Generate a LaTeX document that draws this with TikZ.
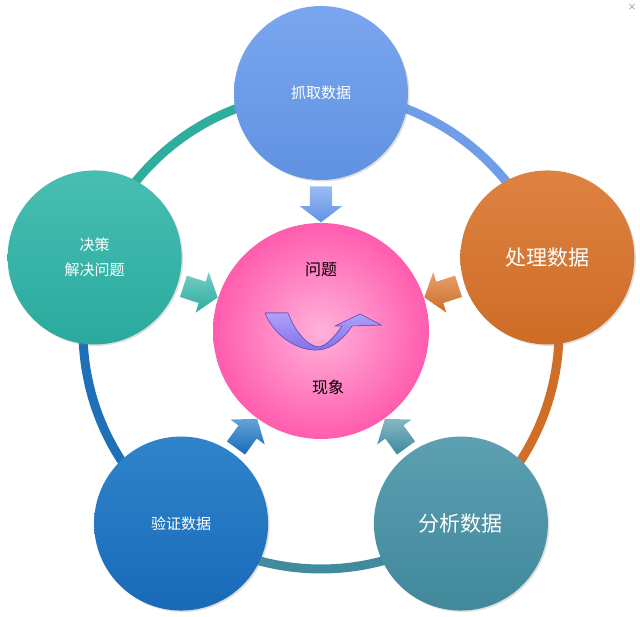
\documentclass[tikz,border=0pt]{standalone}
\usepackage{fontspec}
\setmainfont{Noto Sans CJK SC}
\usepackage{tikz}
\usetikzlibrary{shapes.arrows, positioning, calc, backgrounds, shadows}
\definecolor{GrabTop}{RGB}{122,166,238}
\definecolor{GrabBot}{RGB}{96,146,226}
\definecolor{GrabRing}{RGB}{111,157,232}
\definecolor{ProcTop}{RGB}{222,130,66}
\definecolor{ProcBot}{RGB}{206,108,38}
\definecolor{ProcRing}{RGB}{208,110,40}
\definecolor{AnaTop}{RGB}{92,160,178}
\definecolor{AnaBot}{RGB}{64,136,154}
\definecolor{AnaRing}{RGB}{64,140,158}
\definecolor{VerTop}{RGB}{48,132,202}
\definecolor{VerBot}{RGB}{24,106,184}
\definecolor{VerRing}{RGB}{30,112,184}
\definecolor{DecTop}{RGB}{72,190,178}
\definecolor{DecBot}{RGB}{42,170,158}
\definecolor{DecRing}{RGB}{47,174,159}
\definecolor{HubLight}{RGB}{255,178,218}
\definecolor{HubPink}{RGB}{255,92,174}
\definecolor{SwooshLight}{RGB}{174,162,248}
\definecolor{SwooshDark}{RGB}{128,112,232}
\definecolor{SwooshEdge}{RGB}{100,84,200}

\begin{document}
\begin{tikzpicture}[
    x=1pt, y=1pt,
    stage/.style={circle, minimum size=174pt, inner sep=0pt, text=white, align=center,
                  font=\fontsize{15}{25}\selectfont,
                  drop shadow={shadow xshift=1.5pt, shadow yshift=-1.5pt, opacity=0.25}},
    hub/.style={circle, minimum size=216pt, inner sep=0pt,
                inner color=HubLight, outer color=HubPink},
    inarrow/.style={single arrow, minimum height=36pt, inner xsep=0pt, inner ysep=11pt,
                    single arrow head extend=10pt, single arrow tip angle=105},
    ring/.style={line width=9pt}
]
\useasboundingbox (0,0) rectangle (640,617);

% centre
\node[hub] (hub) at (321,286) {};
\node[font=\fontsize{16}{16}\selectfont] (problem) at (321,347) {问题};
\node[font=\fontsize{16}{16}\selectfont] (phenom) at (328,230) {现象};

% the five stages on the ring
\node[stage, top color=GrabTop, bottom color=GrabBot] (grab) at ($(hub)+(90:238)$) {抓取数据};
\node[stage, top color=ProcTop, bottom color=ProcBot, font=\fontsize{21}{25}\selectfont] (proc) at ($(hub)+(18:238)$) {处理数据};
\node[stage, top color=AnaTop, bottom color=AnaBot, font=\fontsize{21}{25}\selectfont] (ana) at ($(hub)+(-54:238)$) {分析数据};
\node[stage, top color=VerTop, bottom color=VerBot] (verify) at ($(hub)+(-126:238)$) {验证数据};
\node[stage, top color=DecTop, bottom color=DecBot] (decide) at ($(hub)+(162:238)$) {决策\\解决问题};

% ring
\begin{pgfonlayer}{background}
\draw[ring, GrabRing] (grab.center) arc[start angle=90, end angle=18, radius=238];
\draw[ring, ProcRing] (proc.center) arc[start angle=18, end angle=-54, radius=238];
\draw[ring, AnaRing] (ana.center) arc[start angle=-54, end angle=-126, radius=238];
\draw[ring, VerRing] (verify.center) arc[start angle=-126, end angle=-198, radius=238];
\draw[ring, DecRing] (decide.center) arc[start angle=162, end angle=90, radius=238];
\end{pgfonlayer}

% arrows into the centre
\node[inarrow, rotate=270, top color=GrabTop!75!white, bottom color=GrabBot] (a1) at ($(hub)!0.55!(grab)$) {};
\node[inarrow, rotate=198, top color=ProcTop!75!white, bottom color=ProcBot] (a2) at ($(hub)!0.55!(proc)$) {};
\node[inarrow, rotate=126, top color=AnaTop!75!white, bottom color=AnaBot] (a3) at ($(hub)!0.55!(ana)$) {};
\node[inarrow, rotate=54, top color=VerTop!75!white, bottom color=VerBot] (a4) at ($(hub)!0.55!(verify)$) {};
\node[inarrow, rotate=342, top color=DecTop!75!white, bottom color=DecBot] (a5) at ($(hub)!0.55!(decide)$) {};

% swoosh
\filldraw[draw=SwooshEdge, line width=0.6pt, top color=SwooshLight, bottom color=SwooshDark]
  (265,304) .. controls (275,280) and (298,266) .. (318,267)
  .. controls (333,268) and (345,280) .. (352,291)
  -- (381,292) -- (360,303) -- (335,291) -- (342,291)
  .. controls (334,279) and (326,271) .. (318,270)
  .. controls (305,272) and (293,290) .. (288,304) -- cycle;

\node[text=gray, font=\fontsize{9}{9}\selectfont] (closemark) at (632,610) {×};
\end{tikzpicture}
\end{document}
